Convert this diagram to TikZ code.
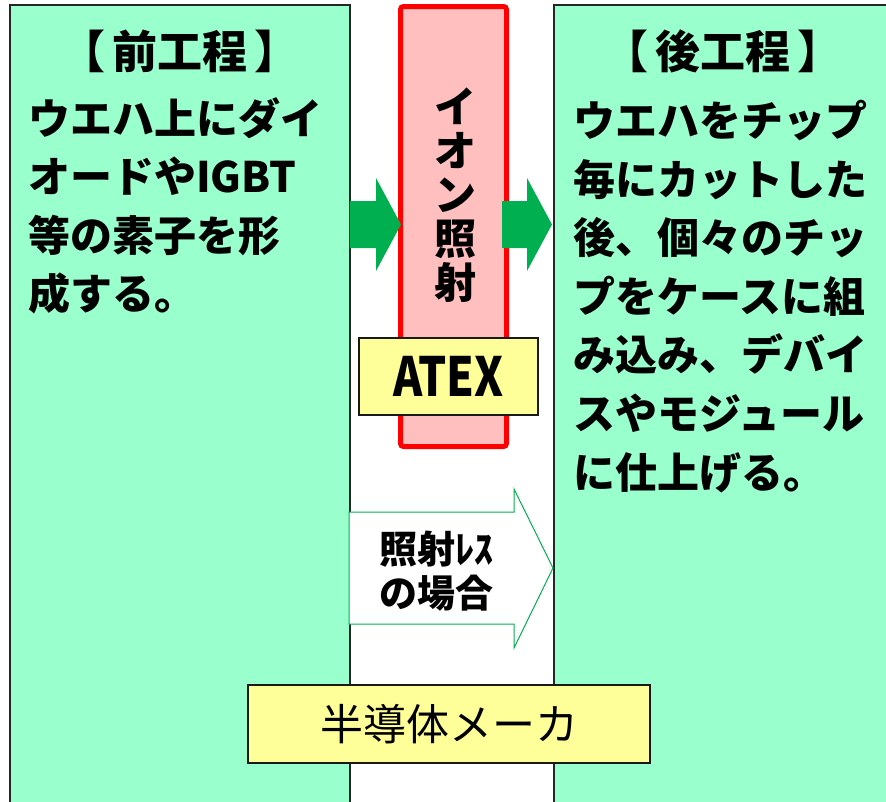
\documentclass[tikz,border=0pt]{standalone}
\usepackage{fontspec}
\usepackage{graphicx}
\newfontfamily\jp{Noto Sans CJK JP}
\definecolor{mint}{HTML}{99FFCC}
\definecolor{pinkfill}{HTML}{FFBFBF}
\definecolor{redline}{HTML}{FF0000}
\definecolor{pale}{HTML}{FFFF99}
\definecolor{arrowgreen}{HTML}{00B050}
\newcommand{\bracketgap}{\hspace{7pt}}
\tikzset{
  stagebox/.style={draw=black!85, line width=1.5pt, fill=mint, anchor=north west, inner sep=0pt},
  labelbox/.style={draw=black!90, line width=1.5pt, fill=pale, inner sep=0pt},
  ionbox/.style={draw=redline, line width=5pt, fill=pinkfill, rounded corners=3pt, anchor=north west, inner sep=0pt},
  bodytext/.style={inner sep=0pt, anchor=north west, align=left, font=\jp\bfseries\fontsize{42}{58.6}\selectfont},
  headtext/.style={inner sep=0pt, font=\jp\bfseries\fontsize{45}{50}\selectfont},
  solidarrow/.style={fill=arrowgreen, draw=none},
  hollowarrow/.style={fill=white, draw=arrowgreen, line width=1pt},
}
\begin{document}
\begin{tikzpicture}[x=1pt,y=-1pt]
\useasboundingbox (0,0) rectangle (886,801);
\clip (0,0) rectangle (886,801);
\fill[white] (0,0) rectangle (886,801);

% front-end and back-end process columns
\node[stagebox, minimum width=340pt, minimum height=830pt] (front) at (9,4) {};
\node[stagebox, minimum width=360pt, minimum height=830pt] (back) at (553,4) {};

\node[headtext] (fronthead) at (180,51) {【\bracketgap 前工程\bracketgap 】};
\node[bodytext] (frontbody) at (28,97) {ウエハ上にダイ\\オードやIGBT\\等の素子を形\\成する。};

\node[headtext] (backhead) at (723,51) {【\bracketgap 後工程\bracketgap 】};
\node[bodytext] (backbody) at (573,100) {ウエハをチップ\\毎にカットした\\後、個々のチッ\\プをケースに組\\み込み、デバイ\\スやモジュール\\に仕上げる。};

% ion irradiation step
\node[ionbox, minimum width=106pt, minimum height=440pt] (ion) at (398,4) {};
\node[inner sep=0pt, align=center, font=\jp\bfseries\fontsize{42}{44}\selectfont] (iontext) at (455,195) {イ\\オ\\ン\\照\\射};
\node[labelbox, minimum width=179pt, minimum height=77pt, font=\jp\bfseries\fontsize{54}{60}\selectfont] (atex) at (448.5,376.5) {\scalebox{0.82}[1]{ATEX}};

% process flow arrows
\draw[solidarrow] (350,201) -- (376,201) -- (376,178) -- (401,224.5) -- (376,271) -- (376,248) -- (350,248) -- cycle;
\draw[solidarrow] (502,201) -- (527,201) -- (527,178) -- (552,224.5) -- (527,271) -- (527,248) -- (502,248) -- cycle;
\draw[hollowarrow] (349,512) -- (514,512) -- (514,489) -- (553,568) -- (514,648) -- (514,624) -- (349,624) -- cycle;
\node[inner sep=0pt, align=center, font=\jp\bfseries\fontsize{38}{44}\selectfont] (skip) at (436,571) {照射ﾚｽ\\の場合};

% manufacturer label
\node[labelbox, minimum width=402pt, minimum height=78pt, font=\jp\fontsize{43}{50}\selectfont] (maker) at (449,724) {半導体メーカ};
\end{tikzpicture}
\end{document}
